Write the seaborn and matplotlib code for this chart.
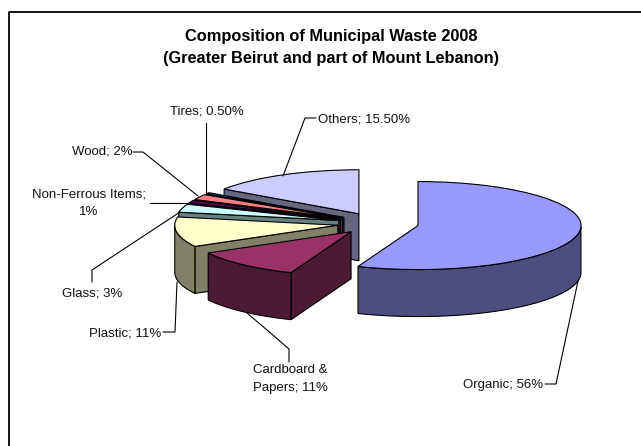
import numpy as np
import seaborn as sns
import matplotlib.pyplot as plt
from matplotlib.patches import Polygon

# data
categories = ['Organic', 'Cardboard &\nPapers', 'Plastic', 'Glass', 'Non-Ferrous Items', 'Wood', 'Tires', 'Others']
values = [56, 11, 11, 3, 1, 2, 0.5, 15.5]
value_labels = ['56%', '11%', '11%', '3%', '\n1%', '2%', '0.50%', '15.50%']
top_colors = ['#9999FF', '#993366', '#FFFFCC', '#CCFFFF', '#660066', '#FF8080', '#0066CC', '#CCCCFF']
title_lines = ['Composition of Municipal Waste 2008', '(Greater Beirut and part of Mount Lebanon)']

sns.set_style('white')
plt.rcParams['font.family'] = ['Liberation Sans', 'DejaVu Sans']

W, H = 641, 446
fig = plt.figure(figsize=(W / 100, H / 100), dpi=100)

# pie axes: squashed so the circle looks like a tilted disc
cx, cy, rx, ry = 378, 223.5, 163, 44
depth = 47 / ry
ax = fig.add_axes([0, 0, 1, 1])
wedges, _ = ax.pie(values, colors=sns.color_palette(top_colors), explode=[0.25] * len(values),
                   startangle=90, counterclock=False,
                   wedgeprops={'edgecolor': 'black', 'linewidth': 0.8})
ax.set_aspect('auto')
ax.set_xlim(-cx / rx, (W - cx) / rx)
ax.set_ylim((cy - H) / ry, cy / ry)


def side(pts, color, z):
    # one vertical face of the slice, pts is the top edge
    pts = np.array(pts)
    low = pts[::-1] - [0, depth]
    ax.add_patch(Polygon(np.vstack([pts, low]), closed=True, facecolor=color,
                         edgecolor='black', linewidth=0.8, zorder=z))


# back slices first, front slices last
order = sorted(range(len(wedges)), key=lambda i: -wedges[i].center[1])
for n, i in enumerate(order):
    w = wedges[i]
    z = 2 + n
    w.set_zorder(z + 0.5)
    dark = tuple(c * 0.5 for c in w.get_facecolor()[:3])
    c = np.array(w.center)
    t1, t2 = np.radians(w.theta1), np.radians(w.theta2)
    # flat cut faces, only those turned towards the viewer
    if -np.cos(t1) < -1e-6:
        side([c, c + [np.cos(t1), np.sin(t1)]], dark, z)
    if np.cos(t2) < -1e-6:
        side([c, c + [np.cos(t2), np.sin(t2)]], dark, z)
    # curved outer face, front half only
    th = np.linspace(t1, t2, 80)
    th = th[np.sin(th) <= 0]
    if len(th) > 1:
        side(c + np.column_stack([np.cos(th), np.sin(th)]), dark, z)

# overlay in picture pixels for frame, labels and leader lines
ov = fig.add_axes([0, 0, 1, 1], facecolor='none')
ov.set_xlim(0, W)
ov.set_ylim(H, 0)
ov.axis('off')
ov.plot([9, 9, W], [H, 12, 12], color='black', lw=1.3, clip_on=False)

ov.text(331, 36, title_lines[0], ha='center', va='center', fontsize=11.8, fontweight='bold', color='black')
ov.text(331, 59, title_lines[1], ha='center', va='center', fontsize=11.8, fontweight='bold', color='black')

label_pos = [(503, 385), (290, 379), (125, 333), (92, 294), (89, 203), (102, 152), (206.5, 112), (364.5, 119)]
leaders = [
    ([545, 556, 578], [384, 384, 281]),
    ([247, 267, 289, 289], [313, 330, 349, 362]),
    ([163, 175, 177], [332, 332, 282]),
    ([180, 92, 92], [212, 270, 282]),
    ([150, 190], [203, 203]),
    ([133, 143, 198], [152, 152, 196]),
    ([206, 206], [123, 195]),
    ([316, 305, 283], [118, 118, 176]),
]
for cat, val, (x, y), (lx, ly) in zip(categories, value_labels, label_pos, leaders):
    sep = ';' if val.startswith('\n') else '; '
    ov.text(x, y, f'{cat}{sep}{val}', ha='center', va='center', fontsize=9.5,
            linespacing=1.65, color='#111111')
    ov.plot(lx, ly, color='black', lw=0.8)

fig.savefig('out.png', dpi=100)
